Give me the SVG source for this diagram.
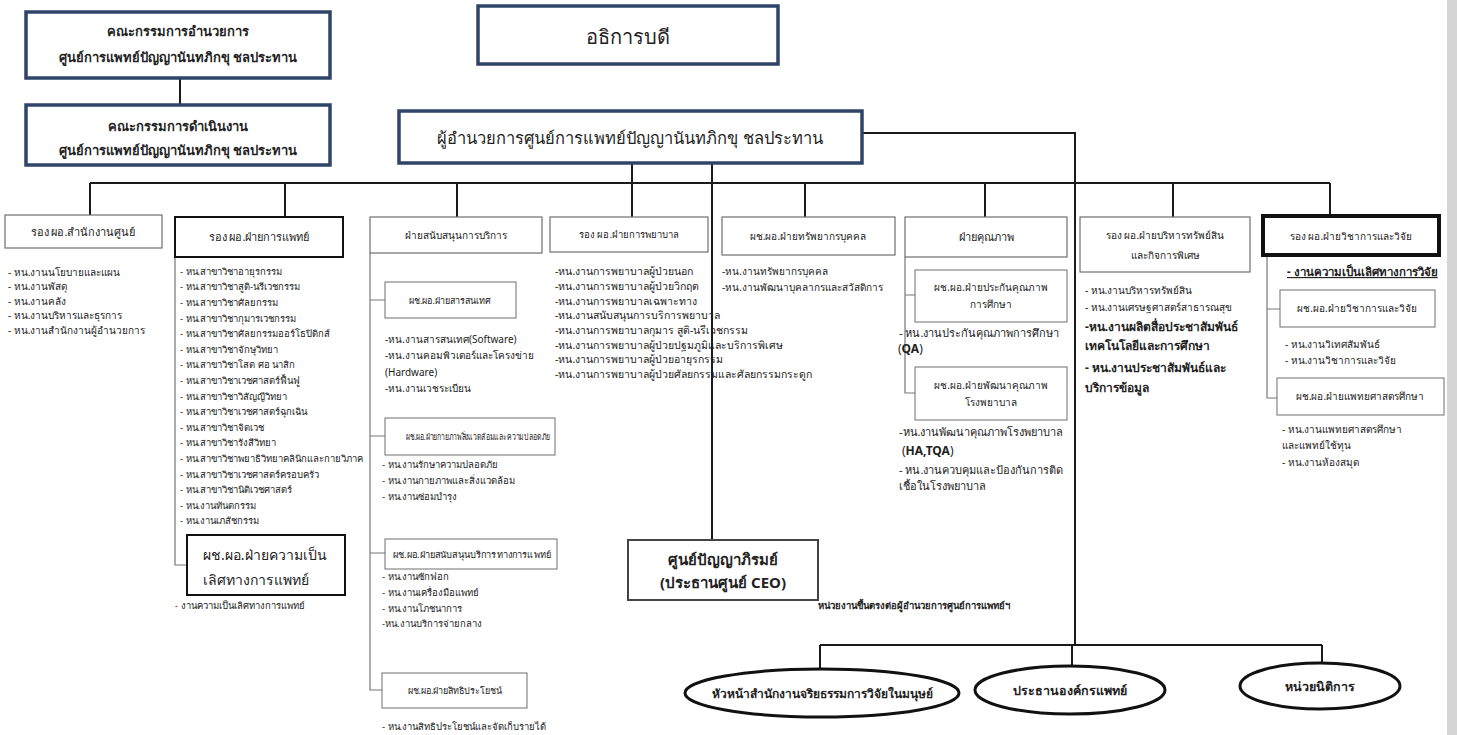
<svg xmlns="http://www.w3.org/2000/svg" width="1457" height="735" viewBox="0 0 1457 735">
<style>
text{font-family:"Noto Sans","DejaVu Sans",sans-serif;fill:#222}
.bx{fill:#fff;stroke:#2e4468;stroke-width:3.5}
.hd{fill:#fff;stroke:#6f6f6f;stroke-width:1.2}
.hdk{fill:#fff;stroke:#111;stroke-width:2}
.sb{fill:#fff;stroke:#6f6f6f;stroke-width:1}
.el{fill:#fff;stroke:#111;stroke-width:3}
.c{stroke:#1a1a1a;stroke-width:2;fill:none}
.cl{stroke:#777;stroke-width:1.2;fill:none}
.t1{font-size:13px;font-weight:600}
.t2{font-size:11px}
.t3{font-size:10px}
.t9{font-size:9.5px}
.tb{font-size:12px;font-weight:bold}
.m{text-anchor:middle}
</style>
<rect x="1447" y="0" width="10" height="735" fill="#d6d6d6"/>

<g id="connectors">
<path class="c" d="M180 78V105"/>
<path class="c" d="M862 133H1075V645"/>
<path class="c" d="M632 163V183"/>
<path class="c" d="M712 163V540"/>
<path class="c" d="M90 183H1330"/>
<path class="c" d="M90 183V215M285 183V217M457 183V217M632 183V217M805 183V217M985 183V217M1173 183V217M1330 183V215"/>
<path class="c" d="M820 645H1322M820 645V669M1072 645V666M1322 645V663"/>
<path class="cl" d="M175 257V565H187"/>
<path class="cl" d="M370 253V690H382M370 300H385M370 436H385M370 553H385"/>
<path class="cl" d="M905 257V393H915M905 295H915"/>
<path class="cl" d="M1267 255V398H1277M1267 309H1280"/>
</g>

<g id="board1"><rect class="bx" x="26" y="12" width="304" height="66"/>
<text class="t1 m" x="178" y="36">คณะกรรมการอำนวยการ</text>
<text class="t1 m" x="178" y="62">ศูนย์การแพทย์ปัญญานันทภิกขุ ชลประทาน</text></g>

<g id="board2"><rect class="bx" x="26" y="105" width="304" height="60"/>
<text class="t1 m" x="178" y="131">คณะกรรมการดำเนินงาน</text>
<text class="t1 m" x="178" y="155">ศูนย์การแพทย์ปัญญานันทภิกขุ ชลประทาน</text></g>

<g id="president"><rect class="bx" x="478" y="6" width="300" height="58"/>
<text class="m" x="628" y="44" font-size="20">อธิการบดี</text></g>

<g id="director"><rect class="bx" x="399" y="111" width="463" height="52"/>
<text class="m" x="630" y="144" font-size="16.5">ผู้อำนวยการศูนย์การแพทย์ปัญญานันทภิกขุ ชลประทาน</text></g>

<g id="col1"><rect class="hd" x="5" y="215" width="157" height="33"/>
<text class="t2 m" x="83" y="236">รอง ผอ.สำนักงานศูนย์</text>
<text class="t3" x="8" y="276">- หน.งานนโยบายและแผน</text>
<text class="t3" x="8" y="290">- หน.งานพัสดุ</text>
<text class="t3" x="8" y="305">- หน.งานคลัง</text>
<text class="t3" x="8" y="319">- หน.งานบริหารและธุรการ</text>
<text class="t3" x="8" y="334">- หน.งานสำนักงานผู้อำนวยการ</text></g>

<g id="col2"><rect class="hdk" x="175" y="217" width="168" height="40"/>
<text class="t2 m" x="259" y="241">รอง ผอ.ฝ่ายการแพทย์</text>
<g class="t9">
<text x="180" y="275">- หน.สาขาวิชาอายุรกรรม</text>
<text x="180" y="290">- หน.สาขาวิชาสูติ-นรีเวชกรรม</text>
<text x="180" y="306">- หน.สาขาวิชาศัลยกรรม</text>
<text x="180" y="322">- หน.สาขาวิชากุมารเวชกรรม</text>
<text x="180" y="337">- หน.สาขาวิชาศัลยกรรมออร์โธปิดิกส์</text>
<text x="180" y="353">- หน.สาขาวิชาจักษุวิทยา</text>
<text x="180" y="368">- หน.สาขาวิชาโสต ศอ นาสิก</text>
<text x="180" y="384">- หน.สาขาวิชาเวชศาสตร์ฟื้นฟู</text>
<text x="180" y="400">- หน.สาขาวิชาวิสัญญีวิทยา</text>
<text x="180" y="415">- หน.สาขาวิชาเวชศาสตร์ฉุกเฉิน</text>
<text x="180" y="431">- หน.สาขาวิชาจิตเวช</text>
<text x="180" y="446">- หน.สาขาวิชารังสีวิทยา</text>
<text x="180" y="462">- หน.สาขาวิชาพยาธิวิทยาคลินิกและกายวิภาค</text>
<text x="180" y="478">- หน.สาขาวิชาเวชศาสตร์ครอบครัว</text>
<text x="180" y="493">- หน.สาขาวิชานิติเวชศาสตร์</text>
<text x="180" y="509">- หน.งานทันตกรรม</text>
<text x="180" y="524">- หน.งานเภสัชกรรม</text>
</g></g>

<g id="col2-excellence"><rect class="hdk" x="187" y="535" width="158" height="60"/>
<text x="203" y="560" font-size="14">ผช.ผอ.ฝ่ายความเป็น</text>
<text x="203" y="585" font-size="14">เลิศทางการแพทย์</text>
<text class="t9" x="175" y="609"><tspan fill="#d00000">-</tspan> งานความเป็นเลิศทางการแพทย์</text></g>

<g id="col3"><rect class="hd" x="370" y="217" width="172" height="36"/>
<text class="t3 m" x="456" y="239">ฝ่ายสนับสนุนการบริการ</text></g>

<g id="col3-it"><rect class="sb" x="385" y="282" width="131" height="36"/>
<text class="m" font-size="9" x="450" y="304">ผช.ผอ.ฝ่ายสารสนเทศ</text>
<text class="t3" x="385" y="343">-หน.งานสารสนเทศ(Software)</text>
<text class="t3" x="385" y="359">-หน.งานคอมพิวเตอร์และโครงข่าย</text>
<text class="t3" x="385" y="376">(Hardware)</text>
<text class="t3" x="385" y="392">-หน.งานเวชระเบียน</text></g>

<g id="col3-env"><rect class="sb" x="385" y="418" width="170" height="37"/>
<text font-size="9" x="406" y="440" textLength="144" lengthAdjust="spacingAndGlyphs">ผช.ผอ.ฝ่ายกายภาพสิ่งแวดล้อมและความปลอดภัย</text>
<text class="t9" x="382" y="468">- หน.งานรักษาความปลอดภัย</text>
<text class="t9" x="382" y="484">- หน.งานกายภาพและสิ่งแวดล้อม</text>
<text class="t9" x="382" y="500">- หน.งานซ่อมบำรุง</text></g>

<g id="col3-medsupport"><rect class="sb" x="385" y="539" width="172" height="30"/>
<text font-size="9" x="393" y="558" textLength="158" lengthAdjust="spacingAndGlyphs">ผช.ผอ.ฝ่ายสนับสนุนบริการทางการแพทย์</text>
<text class="t9" x="382" y="580">- หน.งานซักฟอก</text>
<text class="t9" x="382" y="596">- หน.งานเครื่องมือแพทย์</text>
<text class="t9" x="382" y="612">- หน.งานโภชนาการ</text>
<text class="t9" x="382" y="627">-หน.งานบริการจ่ายกลาง</text></g>

<g id="col3-benefit"><rect class="sb" x="382" y="673" width="145" height="35"/>
<text class="m" font-size="9" x="455" y="694">ผช.ผอ.ฝ่ายสิทธิประโยชน์</text>
<text class="t9" x="382" y="730">- หน.งานสิทธิประโยชน์และจัดเก็บรายได้</text></g>

<g id="col4"><rect class="hd" x="550" y="217" width="158" height="35"/>
<text class="t9 m" x="629" y="238">รอง ผอ.ฝ่ายการพยาบาล</text>
<g font-size="10.5">
<text x="555" y="275">-หน.งานการพยาบาลผู้ป่วยนอก</text>
<text x="555" y="290">-หน.งานการพยาบาลผู้ป่วยวิกฤต</text>
<text x="555" y="305">-หน.งานการพยาบาลเฉพาะทาง</text>
<text x="555" y="319">-หน.งานสนับสนุนการบริการพยาบาล</text>
<text x="555" y="334">-หน.งานการพยาบาลกุมาร สูติ-นรีเวชกรรม</text>
<text x="555" y="349">-หน.งานการพยาบาลผู้ป่วยปฐมภูมิและบริการพิเศษ</text>
<text x="555" y="363">-หน.งานการพยาบาลผู้ป่วยอายุรกรรม</text>
<text x="555" y="378">-หน.งานการพยาบาลผู้ป่วยศัลยกรรมและศัลยกรรมกระดูก</text>
</g></g>

<g id="col5"><rect class="hd" x="722" y="217" width="173" height="38"/>
<text class="t3 m" x="808" y="240">ผช.ผอ.ฝ่ายทรัพยากรบุคคล</text>
<text class="t3" x="722" y="275">-หน.งานทรัพยากรบุคคล</text>
<text class="t3" x="722" y="291">-หน.งานพัฒนาบุคลากรและสวัสดิการ</text></g>

<g id="col6"><rect class="hd" x="905" y="217" width="162" height="40"/>
<text class="t2 m" x="986" y="241">ฝ่ายคุณภาพ</text></g>

<g id="col6-edu"><rect class="sb" x="915" y="270" width="152" height="52"/>
<text class="t3 m" x="991" y="291">ผช.ผอ.ฝ่ายประกันคุณภาพ</text>
<text class="t3 m" x="991" y="308">การศึกษา</text>
<text class="t2" x="899" y="337">- หน.งานประกันคุณภาพการศึกษา</text>
<text x="898" y="353" font-size="12"><tspan>(</tspan><tspan font-weight="bold">QA</tspan><tspan>)</tspan></text></g>

<g id="col6-hosp"><rect class="sb" x="915" y="367" width="152" height="53"/>
<text class="t3 m" x="991" y="389">ผช.ผอ.ฝ่ายพัฒนาคุณภาพ</text>
<text class="t3 m" x="991" y="406">โรงพยาบาล</text>
<text class="t2" x="899" y="436">-หน.งานพัฒนาคุณภาพโรงพยาบาล</text>
<text x="902" y="455" font-size="12"><tspan>(</tspan><tspan font-weight="bold">HA,TQA</tspan><tspan>)</tspan></text>
<text class="t2" x="899" y="474">- หน.งานควบคุมและป้องกันการติด</text>
<text class="t2" x="899" y="490">เชื้อในโรงพยาบาล</text></g>

<g id="col7"><rect class="hd" x="1080" y="217" width="170" height="55"/>
<text class="t3 m" x="1165" y="239">รอง ผอ.ฝ่ายบริหารทรัพย์สิน</text>
<text class="t3 m" x="1165" y="259">และกิจการพิเศษ</text>
<text class="t3" x="1085" y="294">- หน.งานบริหารทรัพย์สิน</text>
<text class="t3" x="1085" y="311">- หน.งานเศรษฐศาสตร์สาธารณสุข</text>
<text class="tb" x="1085" y="331">-หน.งานผลิตสื่อประชาสัมพันธ์</text>
<text class="tb" x="1085" y="350">เทคโนโลยีและการศึกษา</text>
<text class="tb" x="1085" y="372">- หน.งานประชาสัมพันธ์และ</text>
<text class="tb" x="1085" y="392">บริการข้อมูล</text></g>

<g id="col8"><rect fill="#fff" stroke="#111" stroke-width="4" x="1263" y="216" width="176" height="39"/>
<text class="t3 m" x="1351" y="240">รอง ผอ.ฝ่ายวิชาการและวิจัย</text>
<text font-size="11.5" font-weight="bold" x="1287" y="276" text-decoration="underline">- งานความเป็นเลิศทางการวิจัย</text></g>

<g id="col8-acad"><rect class="sb" x="1280" y="290" width="155" height="37"/>
<text class="t3 m" x="1357" y="312">ผช.ผอ.ฝ่ายวิชาการและวิจัย</text>
<text class="t3" x="1285" y="348">- หน.งานวิเทศสัมพันธ์</text>
<text class="t3" x="1285" y="364">- หน.งานวิชาการและวิจัย</text></g>

<g id="col8-meded"><rect class="sb" x="1277" y="378" width="167" height="37"/>
<text class="t3 m" x="1360" y="400">ผช.ผอ.ฝ่ายแพทยศาสตรศึกษา</text>
<text class="t3" x="1282" y="433">- หน.งานแพทยศาสตรศึกษา</text>
<text class="t3" x="1282" y="449">และแพทย์ใช้ทุน</text>
<text class="t3" x="1282" y="466">- หน.งานห้องสมุด</text></g>

<g id="ceo"><rect fill="#fff" stroke="#444" stroke-width="2" x="628" y="540" width="190" height="60"/>
<text class="m" x="723" y="565" font-size="15" font-weight="bold">ศูนย์ปัญญาภิรมย์</text>
<text class="m" x="723" y="588" font-size="15" font-weight="bold">(ประธานศูนย์ CEO)</text></g>

<g id="direct-label"><text font-size="9.5" font-weight="600" x="818" y="609" textLength="192" lengthAdjust="spacingAndGlyphs">หน่วยงานขึ้นตรงต่อผู้อำนวยการศูนย์การแพทย์ฯ</text></g>

<g id="ethics"><ellipse class="el" cx="822" cy="693" rx="137" ry="24"/>
<text class="m" x="822" y="698" font-size="12" font-weight="bold">หัวหน้าสำนักงานจริยธรรมการวิจัยในมนุษย์</text></g>
<g id="medorg"><ellipse class="el" cx="1070" cy="690" rx="95" ry="24"/>
<text class="m" x="1070" y="695" font-size="12.5" font-weight="bold">ประธานองค์กรแพทย์</text></g>
<g id="legal"><ellipse class="el" cx="1320" cy="686" rx="80" ry="23"/>
<text class="m" x="1320" y="691" font-size="12.5" font-weight="bold">หน่วยนิติการ</text></g>
</svg>
